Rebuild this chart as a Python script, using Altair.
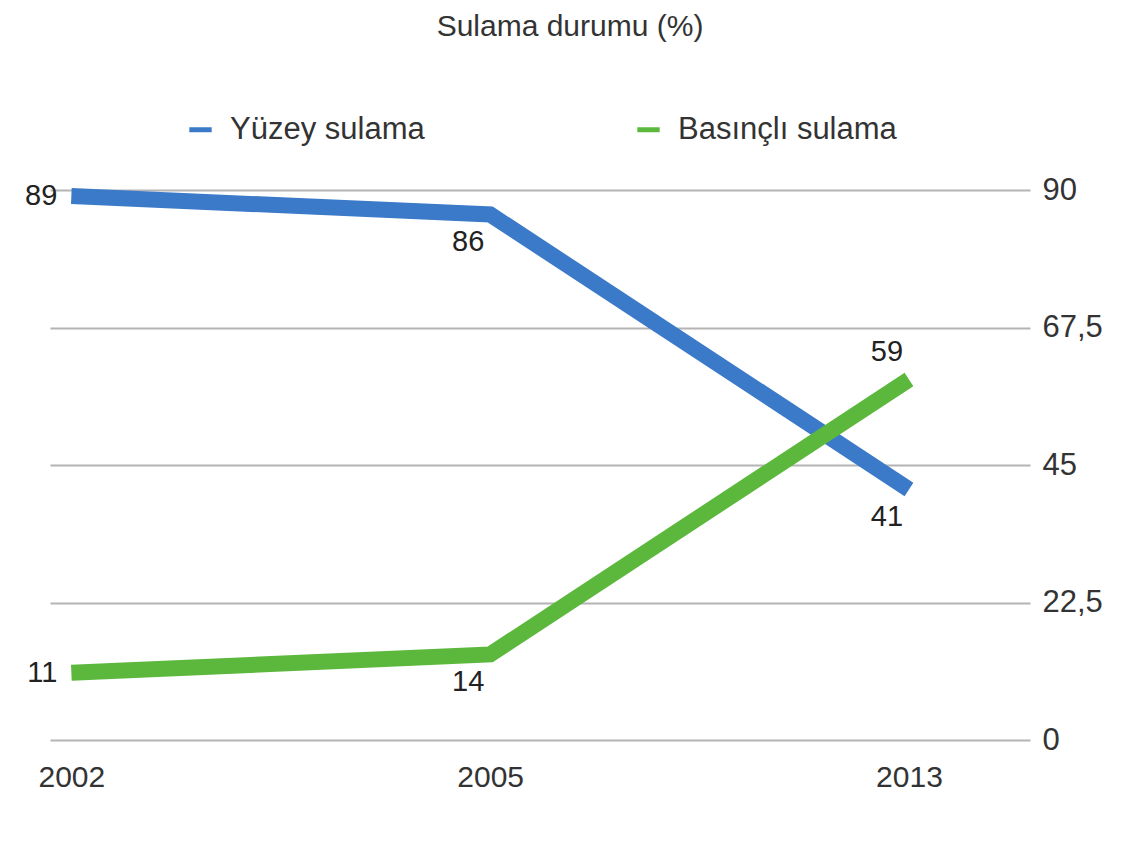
import altair as alt
import pandas as pd

years = ["2002", "2005", "2013"]
yuzey = [89, 86, 41]
basincli = [11, 14, 59]
series_names = ["Yüzey sulama", "Basınçlı sulama"]
y_ticks = [0, 22.5, 45, 67.5, 90]

rows = []
for name, vals in zip(series_names, [yuzey, basincli]):
    for yr, v in zip(years, vals):
        rows.append({"Yıl": yr, "Seri": name, "Değer": v})
df = pd.DataFrame(rows)

FONT = "Liberation Sans"
color = alt.Color(
    "Seri:N",
    scale=alt.Scale(domain=series_names, range=["#3b79c9", "#5cb83c"]),
    legend=alt.Legend(
        title=None, orient="none", direction="horizontal", legendX=135, legendY=-76,
        symbolType="stroke", symbolStrokeWidth=5, symbolSize=500,
        labelFontSize=31, labelFont=FONT, labelColor="#333", columnPadding=202,
        labelOffset=14, labelLimit=400,
    ),
)

x = alt.X("Yıl:O", sort=years,
          scale=alt.Scale(type="point", padding=0.17, align=0.15),
          axis=alt.Axis(title=None, labelAngle=0, domain=False, ticks=False, grid=False,
                        labelFontSize=30, labelFont=FONT, labelColor="#333", labelPadding=22))
y = alt.Y("Değer:Q", scale=alt.Scale(domain=[0, 90]),
          axis=alt.Axis(title=None, orient="right", values=y_ticks, domain=False, ticks=False,
                        grid=True, gridColor="#b4b4b4", gridWidth=2,
                        labelExpr="replace(toString(datum.value), '.', ',')",
                        labelFontSize=31, labelFont=FONT, labelColor="#333", labelPadding=12))

base = alt.Chart(df).encode(x=x, y=y)

lines = base.mark_line(strokeWidth=16, strokeCap="butt", strokeJoin="miter").encode(color=color)

txt_props = dict(fontSize=29, font=FONT, color="#222")
lab_left = base.transform_filter("datum['Yıl'] == '2002'").mark_text(
    align="right", baseline="middle", dx=-14, **txt_props).encode(text="Değer:Q")
lab_below = base.transform_filter(
    "datum['Yıl'] != '2002' && !(datum['Seri'] == 'Basınçlı sulama' && datum['Yıl'] == '2013')"
).mark_text(align="center", baseline="top", dy=14, dx=-22, **txt_props).encode(text="Değer:Q")
lab_above = base.transform_filter(
    "datum['Seri'] == 'Basınçlı sulama' && datum['Yıl'] == '2013'"
).mark_text(align="center", baseline="bottom", dy=-12, dx=-22, **txt_props).encode(text="Değer:Q")

chart = alt.layer(lines, lab_left, lab_below, lab_above).properties(
    width=980, height=550,
    autosize=alt.AutoSizeParams(type="none"),
    padding={"left": 42, "top": 182, "right": 91, "bottom": 107},
    title=alt.TitleParams("Sulama durumu (%)", fontSize=30, font=FONT, fontWeight="normal",
                          color="#333", anchor="middle", offset=72, dx=30),
).configure_view(stroke=None)

chart.save("out.html", embed_options={"renderer": "svg", "actions": False})
